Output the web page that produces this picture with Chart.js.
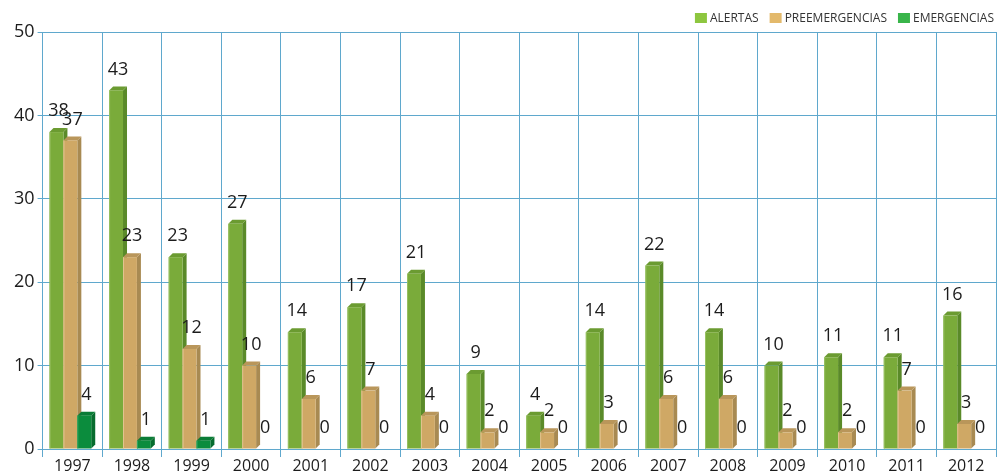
<!DOCTYPE html>
<html>
<head>
<meta charset="utf-8">
<script src="https://cdn.jsdelivr.net/npm/chart.js@4.4.1/dist/chart.umd.min.js"></script>
<style>
  html, body { margin: 0; padding: 0; background: #ffffff; }
  #wrap { width: 997px; height: 475px; position: relative; }
</style>
</head>
<body>
<div id="wrap"><canvas id="chart"></canvas></div>
<script>
// Episodios por año
const years = ['1997','1998','1999','2000','2001','2002','2003','2004','2005','2006','2007','2008','2009','2010','2011','2012'];
const alertas        = [38, 43, 23, 27, 14, 17, 21, 9, 4, 14, 22, 14, 10, 11, 11, 16];
const preemergencias = [37, 23, 12, 10, 6, 7, 4, 2, 2, 3, 6, 6, 2, 2, 7, 3];
const emergencias    = [4, 1, 1, 0, 0, 0, 0, 0, 0, 0, 0, 0, 0, 0, 0, 0];
const seriesNames    = ['ALERTAS', 'PREEMERGENCIAS', 'EMERGENCIAS'];
const yTicks = [0, 10, 20, 30, 40, 50];

// front / side / top / highlight shades for each series, plus legend swatch
const shades = [
  { front: '#7aab3a', side: '#5a8a29', top: '#6b9b31', hi: '#98c163', key: '#8dc63f' },
  { front: '#cfa865', side: '#a88a52', top: '#b9965a', hi: '#e2c48f', key: '#e3b96b' },
  { front: '#0b8c3d', side: '#076c2e', top: '#0a7c36', hi: '#35a862', key: '#39b54a' }
];
const DX = 4, DY = 4;          // extrusion depth
const SHIFT = -DX / 2;          // centre front+depth within the category
const GRID = '#5fa8cd';
const FONT = '"Open Sans", "Liberation Sans", sans-serif';

// extruded bars and value labels
const bars3d = {
  id: 'bars3d',
  afterDatasetsDraw(chart) {
    const ctx = chart.ctx;
    const metas = chart.data.datasets.map((_, d) => chart.getDatasetMeta(d));
    ctx.save();
    for (let i = 0; i < years.length; i++) {
      metas.forEach((meta, d) => {
        const el = meta.data[i];
        const v = chart.data.datasets[d].data[i];
        if (!el || !v) return;
        const p = el.getProps(['x', 'y', 'base', 'width'], true);
        const x = p.x + SHIFT, y = p.y, base = p.base, width = p.width;
        const l = x - width / 2, r = x + width / 2;
        const s = shades[d];
        // side face
        ctx.fillStyle = s.side;
        ctx.beginPath();
        ctx.moveTo(r, y); ctx.lineTo(r + DX, y - DY); ctx.lineTo(r + DX, base - DY); ctx.lineTo(r, base);
        ctx.closePath(); ctx.fill();
        // top face
        ctx.fillStyle = s.top;
        ctx.beginPath();
        ctx.moveTo(l, y); ctx.lineTo(l + DX, y - DY); ctx.lineTo(r + DX, y - DY); ctx.lineTo(r, y);
        ctx.closePath(); ctx.fill();
        // front face
        ctx.fillStyle = s.front;
        ctx.fillRect(l, y, width, base - y);
        ctx.fillStyle = s.hi;
        ctx.fillRect(l, y, 1, base - y);
      });
    }
    // value labels
    ctx.fillStyle = '#1c1c1c';
    ctx.font = '18px ' + FONT;
    ctx.textAlign = 'center';
    ctx.textBaseline = 'middle';
    for (let i = 0; i < years.length; i++) {
      metas.forEach((meta, d) => {
        const el = meta.data[i];
        const v = chart.data.datasets[d].data[i];
        const { x, y } = el.getProps(['x', 'y'], true);
        ctx.fillText(String(v), x + SHIFT + 2, y - 21);
      });
    }
    ctx.restore();
  },
  // compact key in the top-right corner
  afterDraw(chart) {
    const ctx = chart.ctx;
    ctx.save();
    ctx.font = '12px ' + FONT;
    ctx.textBaseline = 'middle';
    ctx.textAlign = 'left';
    let xr = chart.width - 3;
    const cy = 18;
    for (let d = seriesNames.length - 1; d >= 0; d--) {
      const tw = ctx.measureText(seriesNames[d]).width;
      const tx = xr - tw;
      const bx = tx - 15;
      ctx.fillStyle = shades[d].key;
      ctx.fillRect(bx, cy - 5, 12, 10);
      ctx.fillStyle = '#333333';
      ctx.fillText(seriesNames[d], tx, cy + 0.5);
      xr = bx - 11;
    }
    ctx.restore();
  }
};

new Chart(document.getElementById('chart'), {
  type: 'bar',
  data: {
    labels: years,
    datasets: seriesNames.map((name, d) => ({
      label: name,
      data: [alertas, preemergencias, emergencias][d],
      backgroundColor: 'rgba(0,0,0,0)'
    }))
  },
  options: {
    responsive: true,
    maintainAspectRatio: false,
    animation: false,
    datasets: { bar: { categoryPercentage: 0.7, barPercentage: 1.0 } },
    layout: { padding: { left: 11, right: 1, top: 32, bottom: 0 } },
    plugins: {
      tooltip: { enabled: false },
      legend: { display: false }
    },
    scales: {
      x: {
        grid: { color: GRID, lineWidth: 1, offset: true, tickLength: 8 },
        border: { color: GRID },
        ticks: { color: '#1c1c1c', padding: 4, font: { family: FONT, size: 16, lineHeight: 0.625 }, maxRotation: 0 }
      },
      y: {
        min: 0,
        max: 50,
        afterBuildTicks(scale) { scale.ticks = yTicks.map(v => ({ value: v })); },
        grid: { color: GRID, lineWidth: 1, tickLength: 5 },
        border: { color: GRID },
        ticks: { color: '#1c1c1c', padding: 3, font: { family: FONT, size: 18 } }
      }
    }
  },
  plugins: [bars3d]
});
</script>
</body>
</html>
